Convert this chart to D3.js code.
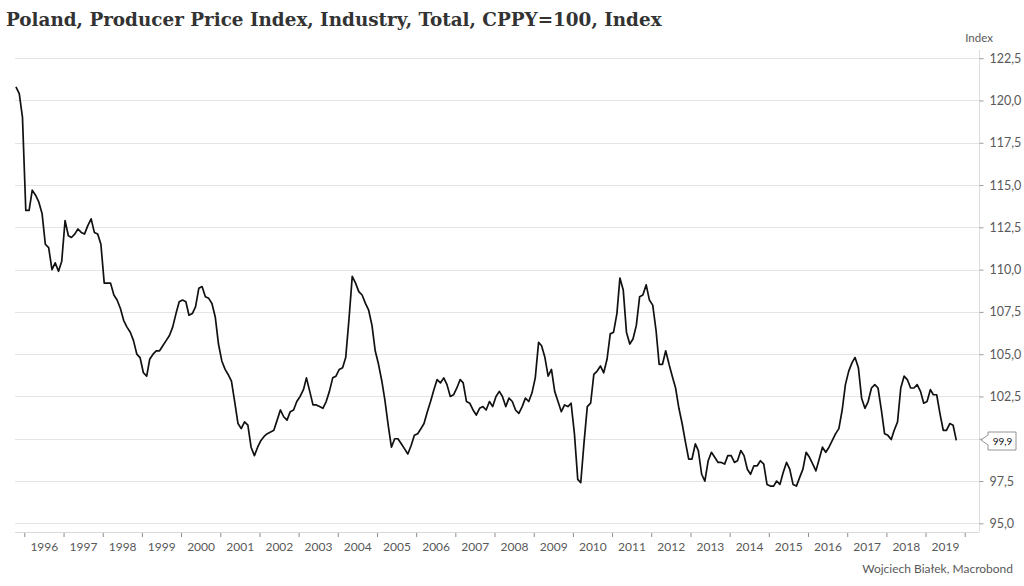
<!DOCTYPE html>
<html>
<head>
<meta charset="utf-8">
<script src="https://cdn.jsdelivr.net/npm/d3@7/dist/d3.min.js"></script>
<style>
  html, body { margin: 0; padding: 0; background: #ffffff; }
  svg { display: block; }
</style>
</head>
<body>
<svg id="chart" width="1024" height="586"></svg>
<script>
// ---------------- DATA ----------------
const titleText = "Poland, Producer Price Index, Industry, Total, CPPY=100, Index";
const unitLabel = "Index";
const sourceText = "Wojciech Białek, Macrobond";
// monthly series, first observation October 1995
const startYear = 1995;
const startMonth = 9; // 0-based month index (October)
const ppi = [
  120.8, 120.4, 119.0,
  113.5, 113.5, 114.7, 114.4, 114.0, 113.3, 111.5, 111.3, 110.0, 110.4, 109.9, 110.5,
  112.9, 112.0, 111.9, 112.1, 112.4, 112.2, 112.1, 112.6, 113.0, 112.2, 112.1, 111.5,
  109.2, 109.2, 109.2, 108.5, 108.2, 107.7, 107.0, 106.6, 106.3, 105.8, 105.0, 104.8,
  103.9, 103.7, 104.7, 105.0, 105.2, 105.2, 105.5, 105.8, 106.1, 106.6, 107.4, 108.1,
  108.2, 108.1, 107.3, 107.4, 107.8, 108.9, 109.0, 108.4, 108.3, 108.0, 107.2, 105.6,
  104.6, 104.1, 103.8, 103.4, 102.2, 100.9, 100.6, 101.0, 100.8, 99.5, 99.0, 99.5,
  99.9, 100.15, 100.3, 100.4, 100.5, 101.1, 101.7, 101.3, 101.1, 101.6, 101.7, 102.2,
  102.5, 102.9, 103.6, 102.8, 102.0, 102.0, 101.9, 101.8, 102.2, 102.8, 103.6, 103.7,
  104.1, 104.2, 104.8, 107.1, 109.6, 109.2, 108.7, 108.5, 108.0, 107.6, 106.7, 105.2,
  104.4, 103.4, 102.3, 100.8, 99.5, 100.0, 100.0, 99.7, 99.4, 99.1, 99.6, 100.2,
  100.3, 100.6, 100.9, 101.6, 102.2, 102.9, 103.5, 103.3, 103.6, 103.2, 102.5, 102.6,
  103.0, 103.5, 103.3, 102.2, 102.1, 101.7, 101.4, 101.8, 101.9, 101.7, 102.2, 101.9,
  102.5, 102.8, 102.5, 101.9, 102.4, 102.2, 101.7, 101.5, 101.9, 102.4, 102.2, 102.7,
  103.6, 105.7, 105.5, 104.8, 103.7, 104.1, 102.8, 102.2, 101.6, 102.0, 101.9, 102.1,
  100.3, 97.6, 97.4, 99.8, 101.9, 102.1, 103.8, 104.0, 104.3, 103.9, 104.7, 106.2,
  106.3, 107.4, 109.5, 108.8, 106.3, 105.6, 105.9, 106.7, 108.4, 108.5, 109.1, 108.2,
  107.9, 106.4, 104.4, 104.4, 105.2, 104.4, 103.7, 103.0, 101.8, 100.9, 99.8, 98.8,
  98.8, 99.7, 99.3, 97.9, 97.5, 98.7, 99.2, 98.9, 98.6, 98.6, 98.5, 99.0,
  99.0, 98.6, 98.7, 99.3, 99.0, 98.2, 97.9, 98.4, 98.4, 98.7, 98.5, 97.3,
  97.2, 97.2, 97.5, 97.3, 98.0, 98.6, 98.2, 97.3, 97.2, 97.7, 98.2, 99.2,
  98.9, 98.5, 98.1, 98.8, 99.5, 99.2, 99.5, 99.9, 100.3, 100.6, 101.7, 103.2,
  104.0, 104.5, 104.8, 104.2, 102.4, 101.8, 102.2, 103.0, 103.2, 103.0, 101.7, 100.3,
  100.2, 99.95, 100.5, 101.0, 103.0, 103.7, 103.5, 103.0, 103.0, 103.2, 102.8, 102.1,
  102.2, 102.9, 102.6, 102.6, 101.5, 100.5, 100.5, 100.9, 100.8, 99.9
];
const yTicks = [95, 97.5, 100, 102.5, 105, 107.5, 110, 112.5, 115, 117.5, 120, 122.5];
const yearLabels = [1996, 1997, 1998, 1999, 2000, 2001, 2002, 2003, 2004, 2005, 2006, 2007,
  2008, 2009, 2010, 2011, 2012, 2013, 2014, 2015, 2016, 2017, 2018, 2019];
const yearTicks = [1996, 1997, 1998, 1999, 2000, 2001, 2002, 2003, 2004, 2005, 2006, 2007,
  2008, 2009, 2010, 2011, 2012, 2013, 2014, 2015, 2016, 2017, 2018, 2019, 2020];

// ---------------- LAYOUT ----------------
const plotLeft = 15, plotRight = 979, plotTop = 50, plotBottom = 532;
const svg = d3.select("#chart");
const labelFont = "Lato, 'Open Sans', sans-serif";

const data = ppi.map((v, i) => ({ date: new Date(startYear, startMonth + i, 15), value: v }));

const x = d3.scaleTime()
  .domain([new Date(1996, 0, 1), new Date(2020, 0, 1)])
  .range([24.3, 964.7]);
const y = d3.scaleLinear()
  .domain([95, 122.5])
  .range([523.3, 58.2]);

const last = data[data.length - 1];
const ly = Math.round(y(last.value));

// gridlines
svg.append("g").selectAll("line").data(yTicks).join("line")
  .attr("x1", plotLeft).attr("x2", plotRight)
  .attr("y1", d => Math.round(y(d)) + 0.5).attr("y2", d => Math.round(y(d)) + 0.5)
  .attr("stroke", "#e4e4e4").attr("stroke-width", 1);

// bottom axis line
svg.append("line")
  .attr("x1", plotLeft).attr("x2", plotRight)
  .attr("y1", plotBottom + 0.5).attr("y2", plotBottom + 0.5)
  .attr("stroke", "#d9d9d9");

// right axis line
svg.append("line")
  .attr("x1", plotRight + 0.5).attr("x2", plotRight + 0.5)
  .attr("y1", plotTop).attr("y2", plotBottom)
  .attr("stroke", "#dcdcdc");

// x ticks at year boundaries
const xTickAxis = d3.axisBottom(x)
  .tickValues(yearTicks.map(yr => new Date(yr, 0, 1)))
  .tickSize(4).tickFormat("");
const gxt = svg.append("g").attr("transform", `translate(0,${plotBottom + 1})`).call(xTickAxis);
gxt.select(".domain").remove();
gxt.selectAll(".tick line").attr("stroke", "#8c8c8c");

// x labels centred mid-year
const xLabelAxis = d3.axisBottom(x)
  .tickValues(yearLabels.map(yr => new Date(yr, 6, 1)))
  .tickSize(0).tickPadding(0)
  .tickFormat(d3.timeFormat("%Y"));
const gxl = svg.append("g").attr("transform", `translate(0,${plotBottom + 10})`).call(xLabelAxis);
gxl.select(".domain").remove();
gxl.selectAll("text")
  .attr("dy", "0.71em")
  .attr("fill", "#595959")
  .style("font-family", labelFont)
  .style("font-size", "12px");

// y axis on right (labels hidden where the last-value callout sits)
const yAxis = d3.axisRight(y)
  .tickValues(yTicks).tickSize(4).tickPadding(6)
  .tickFormat(d => Math.abs(y(d) - ly) < 14 ? "" : d.toFixed(1).replace(".", ","));
const gy = svg.append("g").attr("transform", `translate(${plotRight + 0.5},0)`).call(yAxis);
gy.select(".domain").remove();
gy.selectAll(".tick line").attr("stroke", "#9a9a9a");
gy.selectAll("text")
  .attr("fill", "#595959")
  .style("font-family", labelFont)
  .style("font-size", "12.5px");

// unit label
svg.append("text")
  .attr("x", plotRight).attr("y", 42)
  .attr("text-anchor", "middle")
  .attr("fill", "#595959")
  .style("font-family", labelFont)
  .style("font-size", "11.5px")
  .text(unitLabel);

// line
const line = d3.line().x(d => x(d.date)).y(d => y(d.value));
svg.append("path")
  .datum(data)
  .attr("d", line)
  .attr("fill", "none")
  .attr("stroke", "#111111")
  .attr("stroke-width", 1.7)
  .attr("stroke-linejoin", "round");

// last value callout
const tipX = plotRight + 2, bx0 = 988, bx1 = 1016, bTop = ly - 8, bBot = ly + 10;
svg.append("path")
  .attr("d", `M${tipX},${ly} L${bx0},${ly - 5} L${bx0},${bTop} L${bx1},${bTop} L${bx1},${bBot} L${bx0},${bBot} L${bx0},${ly + 5} Z`)
  .attr("fill", "#ffffff")
  .attr("stroke", "#7a7a7a")
  .attr("stroke-width", 0.8);
svg.append("text")
  .attr("x", (bx0 + bx1) / 2 + 0.5).attr("y", ly + 4.5)
  .attr("text-anchor", "middle")
  .attr("fill", "#111")
  .style("font-family", labelFont)
  .style("font-size", "10px")
  .text(last.value.toFixed(1).replace(".", ","));

// title
const title = svg.append("text")
  .attr("x", 6).attr("y", 26)
  .attr("fill", "#333333")
  .style("font-family", "Georgia, 'DejaVu Serif', 'Liberation Serif', serif")
  .style("font-weight", "bold")
  .style("font-size", "20px")
  .text(titleText);
const tw = title.node().getComputedTextLength();
const target = 656;
if (tw > 0) {
  const fs = Math.max(17, Math.min(23, 20 * target / tw));
  title.style("font-size", fs + "px");
}

// source
svg.append("text")
  .attr("x", 1013).attr("y", 573)
  .attr("text-anchor", "end")
  .attr("fill", "#595959")
  .style("font-family", labelFont)
  .style("font-size", "12px")
  .text(sourceText);
</script>
</body>
</html>
